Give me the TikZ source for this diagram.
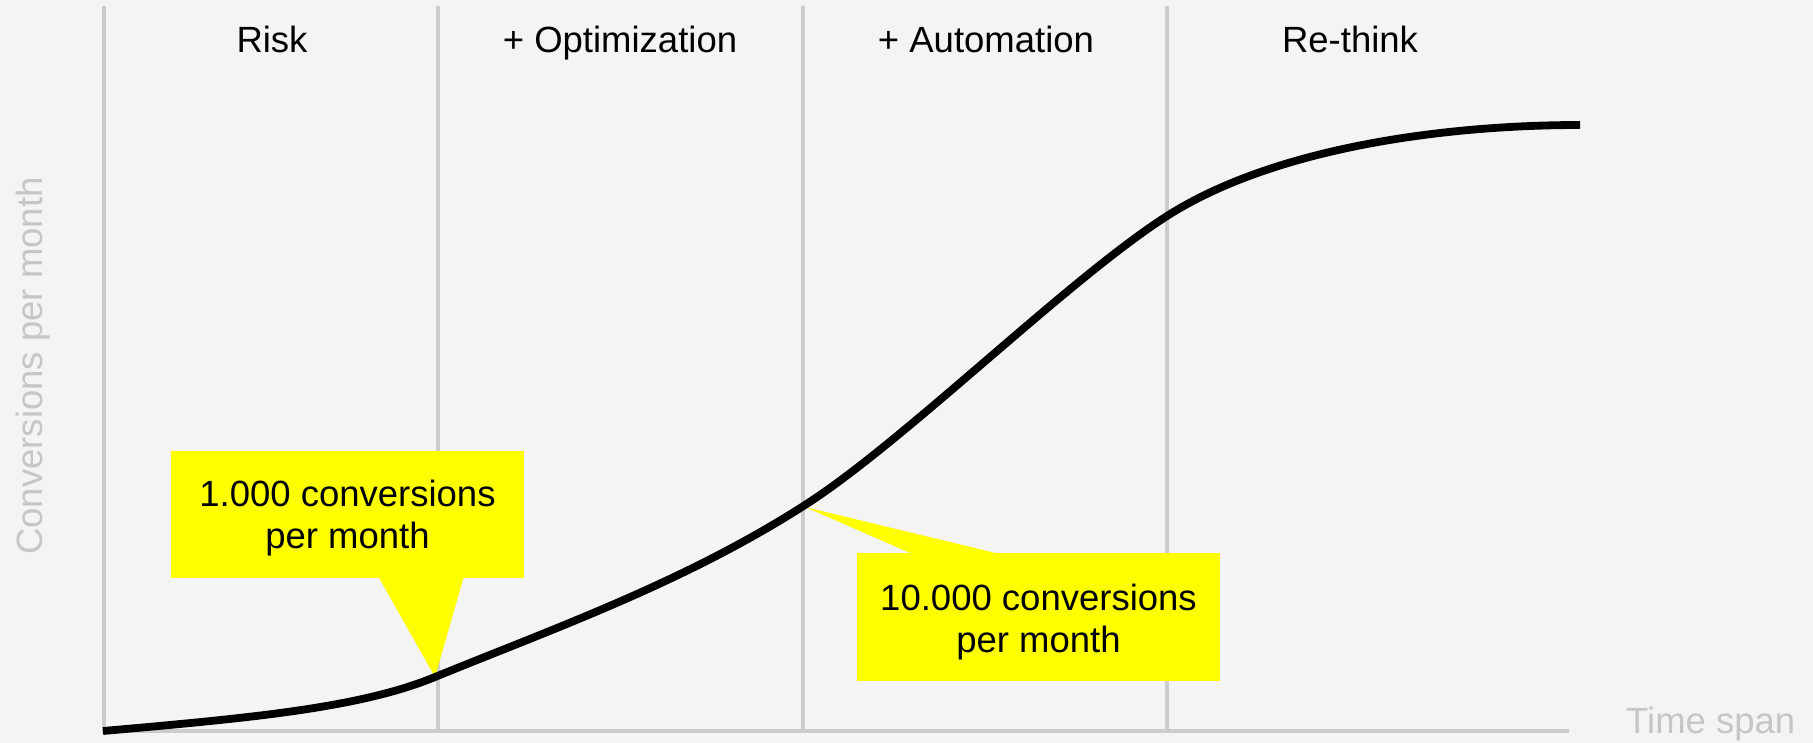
\documentclass[tikz,border=0pt]{standalone}
\usepackage{fontspec}
\setmainfont{Liberation Sans}
\definecolor{bggray}{HTML}{F4F4F4}
\definecolor{linegray}{HTML}{CCCCCC}
\definecolor{txtgray}{HTML}{C6C6C6}
\definecolor{callyellow}{HTML}{FFFF00}
\tikzset{
  gridline/.style={draw=linegray, line width=4pt},
  hdr/.style={anchor=base, inner sep=0pt, font=\fontsize{36.5}{42}\selectfont, text=black},
  axislabel/.style={anchor=base, inner sep=0pt, font=\fontsize{36.5}{42}\selectfont, text=txtgray},
  callbox/.style={fill=callyellow, draw=none, inner sep=0pt},
  calltext/.style={align=center, inner sep=0pt, font=\fontsize{36.5}{42}\selectfont, text=black},
  curve/.style={draw=black, line width=7.8pt, line cap=butt, line join=round}
}
\begin{document}
\begin{tikzpicture}[x=1pt, y=-1pt]
  \fill[bggray] (0,0) rectangle (1813,743);
  \useasboundingbox (0,0) rectangle (1813,743);

  % grid lines
  \coordinate (v1t) at (104,6);   \coordinate (v1b) at (104,731);
  \coordinate (v2t) at (438,6);   \coordinate (v2b) at (438,731);
  \coordinate (v3t) at (803,6);   \coordinate (v3b) at (803,731);
  \coordinate (v4t) at (1167,6);  \coordinate (v4b) at (1167,731);
  \coordinate (axl) at (102,731); \coordinate (axr) at (1569,731);
  \draw[gridline] (v1t) -- (v1b);
  \draw[gridline] (v2t) -- (v2b);
  \draw[gridline] (v3t) -- (v3b);
  \draw[gridline] (v4t) -- (v4b);
  \draw[gridline] (axl) -- (axr);

  % headers
  \node[hdr] (h1) at (272,53) {Risk};
  \node[hdr] (h2) at (620,53) {+ Optimization};
  \node[hdr] (h3) at (986,53) {+ Automation};
  \node[hdr] (h4) at (1350,53) {Re-think};

  % axis labels
  \node[axislabel, rotate=90] (ylab) at (42,366) {Conversions per month};
  \node[axislabel, anchor=base west] (xlab) at (1626,733) {Time span};

  % callout 1
  \node[callbox, minimum width=353pt, minimum height=127pt] (box1) at (347.5,514.5) {};
  \coordinate (tip1) at (435,677);
  \coordinate (b1l) at (378,576);
  \coordinate (b1r) at (464,576);
  \fill[callyellow] (b1l) -- (tip1) -- (b1r) -- cycle;
  \node[calltext] (t1) at ([yshift=-4pt]box1.center) {1.000 conversions\\per month};

  % callout 2
  \node[callbox, minimum width=363pt, minimum height=128pt] (box2) at (1038.5,617) {};
  \coordinate (tip2) at (805,507);
  \coordinate (b2l) at (917,556);
  \coordinate (b2r) at (1008,556);
  \fill[callyellow] (b2l) -- (tip2) -- (b2r) -- cycle;
  \node[calltext] (t2) at ([yshift=-5.5pt]box2.center) {10.000 conversions\\per month};

  % growth curve
  \coordinate (c0) at (103,731);
  \coordinate (c1) at (435,677);
  \coordinate (c2) at (805,505);
  \coordinate (c3) at (1167,216);
  \coordinate (c4) at (1580,125);
  \draw[curve] (c0) .. controls (250,718) and (360,708) .. (c1)
                    .. controls (555,628) and (685,582) .. (c2)
                    .. controls (905,441) and (1067,280) .. (c3)
                    .. controls (1277,146) and (1450,125) .. (c4);
\end{tikzpicture}
\end{document}
